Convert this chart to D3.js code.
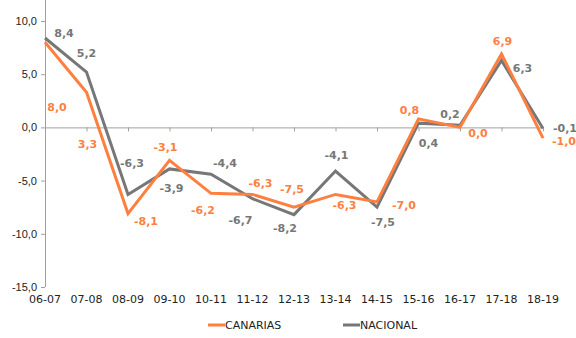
<!DOCTYPE html>
<html><head><meta charset="utf-8">
<script src="https://cdn.jsdelivr.net/npm/d3@7/dist/d3.min.js"></script>
<style>
body{margin:0;background:#fff;}
svg{display:block;font-family:"DejaVu Sans",Verdana,sans-serif;}
</style></head>
<body><svg id="c" width="576" height="338"></svg>
<script>
const categories = ["06-07","07-08","08-09","09-10","10-11","11-12","12-13","13-14","14-15","15-16","16-17","17-18","18-19"];
const canarias = [8.0, 3.3, -8.1, -3.1, -6.2, -6.3, -7.5, -6.3, -7.0, 0.8, 0.0, 6.9, -1.0];
const nacional = [8.4, 5.2, -6.3, -3.9, -4.4, -6.7, -8.2, -4.1, -7.5, 0.4, 0.2, 6.3, -0.1];
const yTicks = [10, 5, 0, -5, -10, -15];
const seriesNames = ["CANARIAS", "NACIONAL"];

// label offsets (layout only)
const canariasOff = [[12,65],[1,52],[18,8],[-4,-13],[-8,17],[8,-11],[-2,-18],[9,11],[27,4],[-9,-8],[18,6],[1,-12],[21,3]];
const nacionalOff = [[19,-5],[0,-19],[4,-31],[2,20],[14,-11],[-12,22],[-9,14],[1,-16],[6,15],[10,20],[-10,-11],[21,8],[22,0]];

const ORANGE = "#ff7f3f", GRAY = "#777777";
const svg = d3.select("#c");
const x = d3.scalePoint().domain(categories).range([45, 543]);
const y = d3.scaleLinear().domain([-15, 10]).range([287, 21]);
const fmt = v => v.toFixed(1).replace(".", ",");

// y axis
const ya = svg.append("g").attr("transform","translate(45,0)")
  .call(d3.axisLeft(y).tickValues(yTicks).tickFormat(fmt).tickSize(4).tickPadding(4));
ya.select(".domain").remove();
ya.selectAll("line").attr("stroke","#a0a0a0");
ya.selectAll("text").attr("font-size","11px").attr("fill","#222");
svg.append("line").attr("x1",45.5).attr("x2",45.5).attr("y1",0).attr("y2",y(-15)).attr("stroke","#a0a0a0");

// zero line with ticks
const xa = svg.append("g").attr("transform",`translate(0,${y(0)})`)
  .call(d3.axisBottom(x).tickSize(4).tickFormat(""));
xa.select(".domain").attr("stroke","#a0a0a0").attr("d",`M45,0.5H543`);
xa.selectAll("line").attr("stroke","#a0a0a0");

// category labels at bottom
svg.append("g").selectAll("text").data(categories).join("text")
  .attr("x", d => x(d)).attr("y", 303).attr("text-anchor","middle")
  .attr("font-size","11px").attr("fill","#222").text(d => d);

const line = d3.line().x((d,i) => x(categories[i])).y(d => y(d));
svg.append("path").datum(nacional).attr("d", line).attr("fill","none").attr("stroke",GRAY).attr("stroke-width",3);
svg.append("path").datum(canarias).attr("d", line).attr("fill","none").attr("stroke",ORANGE).attr("stroke-width",3);

function labels(data, off, color){
  svg.append("g").selectAll("text").data(data).join("text")
    .attr("x",(d,i)=> x(categories[i]) + off[i][0])
    .attr("y",(d,i)=> y(d) + off[i][1])
    .attr("text-anchor","middle").attr("dominant-baseline","central")
    .attr("font-size","11px").attr("font-weight","bold").attr("fill",color)
    .text(d => fmt(d));
}
labels(nacional, nacionalOff, GRAY);
labels(canarias, canariasOff, ORANGE);

// legend
const leg = svg.append("g");
[[ORANGE, 208], [GRAY, 343]].forEach((c, i) => {
  leg.append("line").attr("x1",c[1]).attr("x2",c[1]+17).attr("y1",325).attr("y2",325).attr("stroke",c[0]).attr("stroke-width",3);
  leg.append("text").attr("x",c[1]+17).attr("y",325).attr("dominant-baseline","central")
    .attr("font-size","11px").attr("fill","#222").text(seriesNames[i]);
});
</script></body></html>
